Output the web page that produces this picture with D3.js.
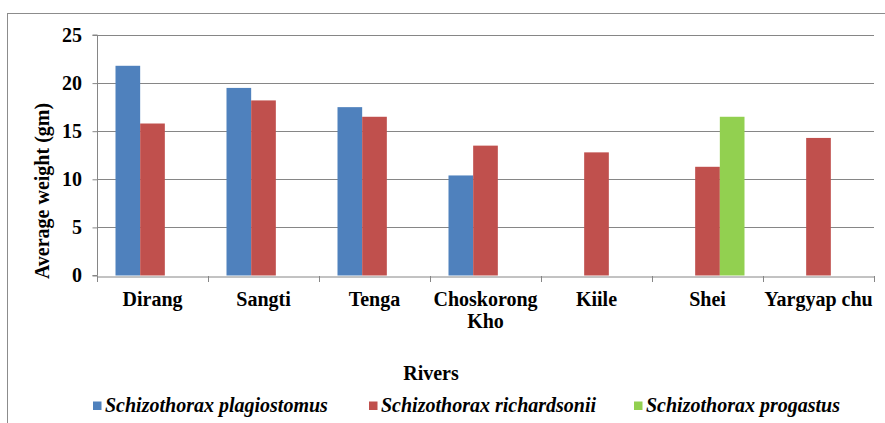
<!DOCTYPE html>
<html><head><meta charset="utf-8">
<script src="https://cdn.jsdelivr.net/npm/d3@7"></script>
<style>
body{margin:0}
text{font-family:"Liberation Serif",Tinos,FreeSerif,serif !important;font-weight:bold;font-size:20px}
</style>
</head><body>
<script>
const categories = ["Dirang","Sangti","Tenga","Choskorong Kho","Kiile","Shei","Yargyap chu"];
const seriesNames = ["Schizothorax plagiostomus","Schizothorax richardsonii","Schizothorax progastus"];
const colors = ["#4F81BD","#C0504D","#92D050"];
const plagiostomus = [21.8,19.5,17.5,10.4,null,null,null];
const richardsonii = [15.8,18.2,16.5,13.5,12.8,11.3,14.3];
const progastus = [null,null,null,null,null,16.5,null];
const yTicks = [0,5,10,15,20,25];
const seriesValues = [plagiostomus, richardsonii, progastus];

const W=885,H=423;
const svg=d3.select("body").append("svg").attr("width",W).attr("height",H)
  .attr("font-family","Liberation Serif");
function txt(sel,italic){
  sel.attr("font-family","Liberation Serif").attr("font-weight","bold").attr("font-size",20);
  if(italic) sel.attr("font-style","italic").style("font-style","italic");
  return sel;
}

svg.append("rect").attr("x",7.5).attr("y",13.5).attr("width",1000).attr("height",600)
  .attr("fill","none").attr("stroke","#8c8c8c").attr("stroke-width",1);

const L=97,R=874,T=35,B=275.5;
const x=d3.scaleBand().domain(categories).range([L,R]).paddingInner(0).paddingOuter(0);
const y=d3.scaleLinear().domain([0,25]).range([B,T]);
const bw=x.bandwidth()/4.5;
const x1=d3.scaleBand().domain(d3.range(3)).range([0,bw*3]);

svg.append("g").selectAll("line").data(yTicks.filter(t=>t>0)).join("line")
  .attr("x1",L).attr("x2",R).attr("y1",d=>Math.round(y(d))+0.5).attr("y2",d=>Math.round(y(d))+0.5)
  .attr("stroke","#868686").attr("stroke-width",1);

seriesValues.forEach((vals,si)=>{
  svg.append("g").selectAll("rect").data(categories.map((c,i)=>({c,v:vals[i]})).filter(d=>d.v!=null)).join("rect")
    .attr("x",d=>x(d.c)+(x.bandwidth()-bw*3)/2+x1(si))
    .attr("width",x1.bandwidth())
    .attr("y",d=>y(d.v)).attr("height",d=>B-y(d.v))
    .attr("fill",colors[si]);
});

const ya=svg.append("g").attr("transform",`translate(${L+0.5},0)`)
  .call(d3.axisLeft(y).tickValues(yTicks).tickSize(5).tickFormat(""));
ya.attr("font-family",null).attr("font-size",null);
ya.select(".domain").attr("stroke","#868686").attr("d",`M-5,${T}H0V${B}H-5`);
ya.selectAll(".tick line").attr("stroke","#868686");
ya.selectAll(".tick text").remove();
txt(svg.append("g").selectAll("text").data(yTicks).join("text"))
  .attr("x",L-15).attr("y",d=>y(d)).attr("dy","0.33em").attr("text-anchor","end").text(d=>d);

const xa=svg.append("g").attr("transform",`translate(0,${Math.round(B)+0.5})`)
  .call(d3.axisBottom(x).tickSize(0).tickFormat(""));
xa.attr("font-family",null).attr("font-size",null);
xa.select(".domain").attr("stroke","#868686");
xa.selectAll(".tick").remove();
svg.append("g").selectAll("line").data(d3.range(categories.length+1)).join("line")
  .attr("x1",i=>Math.round(L+i*x.bandwidth())+0.5).attr("x2",i=>Math.round(L+i*x.bandwidth())+0.5)
  .attr("y1",Math.round(B)).attr("y2",Math.round(B)+6).attr("stroke","#868686");

const xl=txt(svg.append("g").selectAll("text").data(categories).join("text"))
  .attr("x",d=>x(d)+x.bandwidth()/2).attr("y",306)
  .attr("text-anchor","middle");
xl.each(function(d){
  const t=d3.select(this);
  const parts = d==="Choskorong Kho" ? ["Choskorong","Kho"] : [d];
  parts.forEach((p,i)=>t.append("tspan").attr("x",x(d)+x.bandwidth()/2).attr("dy",i?22:0).text(p));
});

txt(svg.append("text")).attr("transform",`translate(49,191) rotate(-90)`)
  .attr("text-anchor","middle").text("Average weight (gm)");
txt(svg.append("text")).attr("x",431).attr("y",380).attr("text-anchor","middle").text("Rivers");

const legX=[93,369,634];
const lg=svg.append("g");
seriesNames.forEach((n,i)=>{
  lg.append("rect").attr("x",legX[i]).attr("y",401.5).attr("width",8.5).attr("height",8.5).attr("fill",colors[i]);
  txt(lg.append("text"),true).attr("x",legX[i]+12).attr("y",412).text(n);
});
</script>
</body></html>
